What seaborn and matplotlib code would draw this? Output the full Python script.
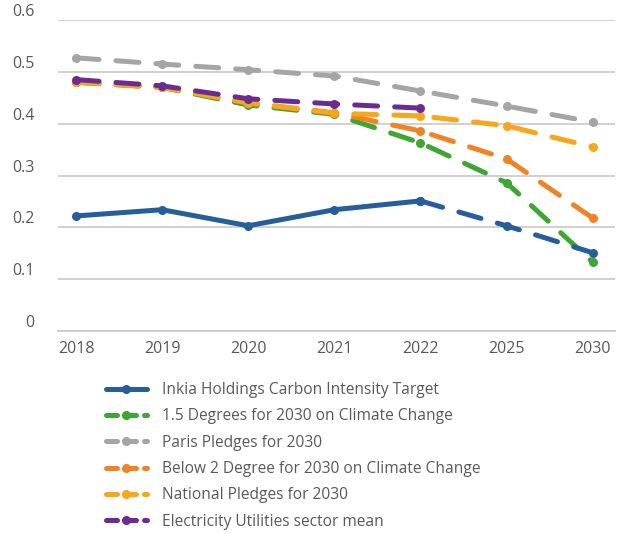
import numpy as np
import pandas as pd
import matplotlib
matplotlib.use('Agg')
import matplotlib.pyplot as plt
import seaborn as sns
from matplotlib.lines import Line2D

# данные
years = ['2018', '2019', '2020', '2021', '2022', '2025', '2030']
inkia = [0.222, 0.234, 0.203, 0.234, 0.251, 0.203, 0.151]
deg15 = [0.480, 0.470, 0.436, 0.418, 0.363, 0.286, 0.133]
paris = [0.527, 0.515, 0.504, 0.492, 0.463, 0.434, 0.403]
below2 = [0.480, 0.470, 0.440, 0.421, 0.386, 0.332, 0.218]
national = [0.480, 0.470, 0.440, 0.420, 0.415, 0.396, 0.355]
sector = [0.485, 0.473, 0.448, 0.438, 0.430]  # только до 2022

labels = ['Inkia Holdings Carbon Intensity Target',
          '1.5 Degrees for 2030 on Climate Change',
          'Paris Pledges for 2030',
          'Below 2 Degree for 2030 on Climate Change',
          'National Pledges for 2030',
          'Electricity Utilities sector mean']
colors = ['#255E9B', '#3FA535', '#A5A5A5', '#F08424', '#F9A61A', '#6A2C91']

sns.set_style('white')
plt.rcParams['font.family'] = ['Open Sans', 'DejaVu Sans']

fig = plt.figure(figsize=(6.19, 5.34), dpi=100)
ax = fig.add_axes([58 / 619, 1 - 331 / 534, (615 - 58) / 619, (331 - 20) / 534])

lw = 3.6
ms = 6.5
dash = (4.6, 3.4)
x = np.arange(len(years))

# пунктирные сценарии в длинном формате, порядок = порядок отрисовки
series = [(labels[1], deg15), (labels[3], below2), (labels[4], national),
          (labels[2], paris), (labels[5], sector)]
rows = []
for name, vals in series:
    for i, v in enumerate(vals):
        rows.append({'x': x[i], 'value': v, 'series': name})
long_df = pd.DataFrame(rows)
order = [s[0] for s in series]
pal = {labels[i]: colors[i] for i in range(len(labels))}

sns.lineplot(data=long_df, x='x', y='value', hue='series', hue_order=order,
             palette=pal, style='series', style_order=order,
             dashes={n: dash for n in order}, markers={n: 'o' for n in order},
             lw=lw, markersize=ms, markeredgewidth=0, dash_capstyle='round',
             legend=False, ax=ax)

# Inkia: сплошная до 2022, далее пунктир
blue_df = pd.DataFrame({'x': x, 'value': inkia})
sns.lineplot(data=blue_df.iloc[:5], x='x', y='value', color=colors[0], lw=lw,
             marker='o', markersize=ms, markeredgewidth=0,
             solid_capstyle='round', ax=ax, zorder=10)
sns.lineplot(data=blue_df.iloc[4:], x='x', y='value', color=colors[0], lw=lw,
             marker='o', markersize=ms, markeredgewidth=0,
             dash_capstyle='round', ax=ax, zorder=10)
ax.lines[-1].set_dashes(dash)

ax.set_ylim(0, 0.6)
ax.set_xlim(-0.21, 6.26)
ax.set_yticks(np.arange(0, 0.61, 0.1))
ax.set_yticklabels(['0', '0.1', '0.2', '0.3', '0.4', '0.5', '0.6'])
ax.set_xticks(x)
ax.set_xticklabels(years)
ax.grid(axis='y', color='#C8C8C8', lw=1.2)
ax.set_axisbelow(True)
for s in ['top', 'right', 'left']:
    ax.spines[s].set_visible(False)
ax.spines['bottom'].set_color('#C8C8C8')
ax.spines['bottom'].set_linewidth(1.2)
ax.tick_params(axis='both', length=0, labelsize=11.5, colors='#595959')
ax.tick_params(axis='y', pad=17)
ax.tick_params(axis='x', pad=7)
ax.set_xlabel('')
ax.set_ylabel('')
for t in ax.get_yticklabels():
    t.set_verticalalignment('bottom')

handles = []
for i, (lab, col) in enumerate(zip(labels, colors)):
    h = Line2D([], [], color=col, lw=lw, marker='o', markersize=ms,
               markeredgewidth=0, dash_capstyle='round')
    if i > 0:
        h.set_dashes((2.2, 1.6))
    handles.append(h)
fig.legend(handles, labels, loc='upper left', bbox_to_anchor=(100 / 619, 1 - 376 / 534),
           frameon=False, fontsize=11.2, labelcolor='#595959', handlelength=2.6,
           handletextpad=1.0, labelspacing=0.66, borderaxespad=0)

fig.savefig('out.png', dpi=100)
